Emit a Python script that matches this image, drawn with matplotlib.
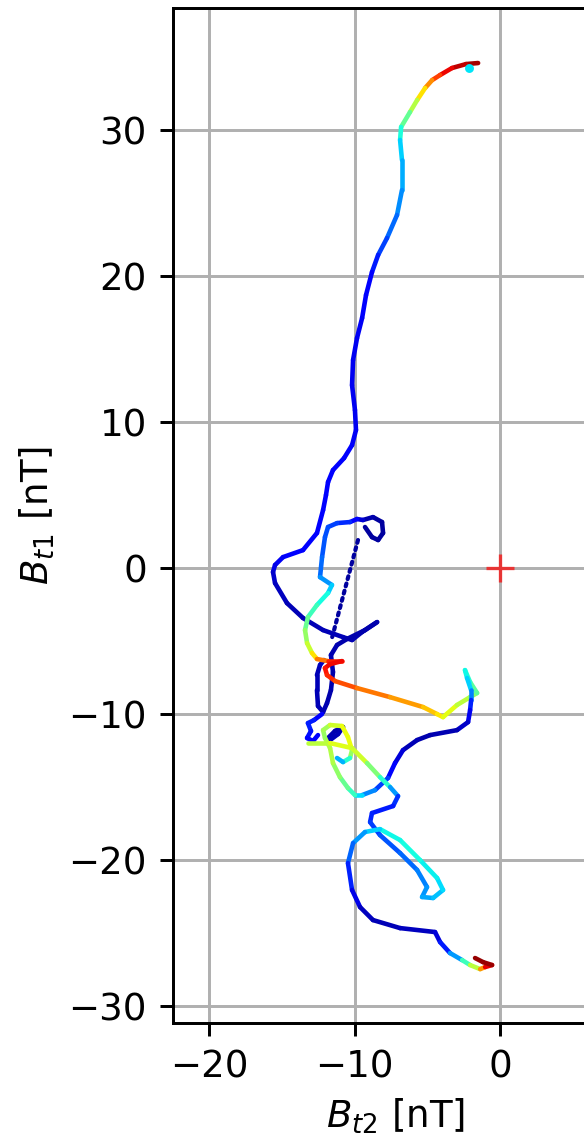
import numpy as np
import matplotlib
matplotlib.use("Agg")
import matplotlib.pyplot as plt
from matplotlib.collections import LineCollection

# Hodograma Bt2 vs Bt1, coloreado con jet
# tramo superior: rojo -> azul -> arco azul oscuro -> lazo azul oscuro
a1_x = [-1.51, -2.34, -3.30, -4.12, -4.67, -5.15, -5.70, -6.19, -6.80, -6.87,
        -6.74, -6.74, -7.08, -7.77, -8.38, -8.80, -9.21, -9.48, -9.83, -10.10,
        -10.17, -9.97, -9.90, -10.17, -10.72, -11.48, -11.82, -11.96, -12.16, -12.58,
        -13.54, -14.91, -15.46, -15.60, -15.46, -14.64, -13.54, -12.16, -10.79, -10.17,
        -9.48, -8.45, -9.28, -10.52, -11.20, -11.62, -11.48, -11.62, -11.89, -12.16,
        -12.51, -12.58, -12.58, -12.37, -12.10]
a1_y = [34.59, 34.52, 34.25, 33.77, 33.42, 32.88, 32.05, 31.23, 30.21, 29.32,
        27.95, 25.89, 24.18, 22.60, 21.44, 20.27, 18.70, 17.12, 15.75, 14.25,
        12.53, 10.82, 9.45, 8.42, 7.53, 6.71, 5.89, 5.00, 3.97, 2.40,
        1.23, 0.75, 0.21, -0.27, -1.03, -2.40, -3.42, -4.25, -4.73, -4.93,
        -4.38, -3.70, -4.25, -4.86, -5.27, -5.96, -7.12, -8.36, -9.25, -9.86,
        -9.45, -8.36, -7.33, -6.64, -6.30]
a1_c = [0.97, 0.96, 0.93, 0.88, 0.80, 0.72, 0.62, 0.52, 0.42, 0.35,
        0.31, 0.28, 0.25, 0.21, 0.17, 0.13, 0.11, 0.11, 0.10, 0.10,
        0.10, 0.10, 0.10, 0.11, 0.11, 0.11, 0.12, 0.12, 0.12, 0.12,
        0.12, 0.11, 0.10, 0.08, 0.06, 0.05, 0.05, 0.05, 0.05, 0.05,
        0.04, 0.04, 0.04, 0.04, 0.04, 0.05, 0.04, 0.04, 0.04, 0.05,
        0.05, 0.05, 0.05, 0.05, 0.06]

# enredo azul
tg_x = [-12.23, -12.78, -13.20, -12.99, -13.26, -12.85, -12.51]
tg_y = [-10.00, -10.41, -10.62, -11.16, -11.64, -11.85, -11.44]
tg_c = [0.10, 0.14, 0.16, 0.15, 0.13, 0.12, 0.10]

st_x = [-11.82, -11.34, -10.79, -11.13, -11.68]
st_y = [-11.64, -11.16, -10.89, -11.37, -11.78]
st_c = [0.05, 0.04, 0.04, 0.05, 0.05]

# tramo inferior: amarillo -> lazo cian -> final rojo oscuro
a2_x = [-13.20, -11.68, -10.17, -9.14, -8.25, -7.56, -7.01, -7.35, -8.80, -8.93,
        -8.25, -6.87, -5.70, -5.02, -5.36, -4.60, -3.92, -4.33, -5.50, -6.87,
        -8.25, -9.28, -10.10, -10.45, -10.17, -9.62, -8.73, -6.87, -4.47, -4.12,
        -3.44, -2.61, -2.06, -1.37, -1.03, -0.55, -1.17, -1.72]
a2_y = [-11.99, -11.99, -12.33, -13.36, -14.32, -15.00, -15.62, -16.30, -16.78, -17.40,
        -18.29, -19.52, -20.68, -21.85, -22.53, -22.60, -22.05, -21.23, -20.00, -18.63,
        -17.88, -18.08, -18.84, -20.21, -22.05, -23.22, -24.11, -24.66, -24.93, -25.62,
        -26.37, -26.85, -27.19, -27.47, -27.33, -27.19, -26.99, -26.71]
a2_c = [0.55, 0.60, 0.64, 0.56, 0.45, 0.35, 0.20, 0.15, 0.15, 0.17,
        0.20, 0.22, 0.24, 0.26, 0.28, 0.30, 0.33, 0.35, 0.37, 0.38,
        0.36, 0.30, 0.25, 0.20, 0.12, 0.06, 0.05, 0.05, 0.06, 0.10,
        0.20, 0.35, 0.50, 0.65, 0.85, 0.97, 0.98, 0.98]

# tramo central: lazo -> cian/verde -> naranja -> azul oscuro -> lazo verde
b_x = [-9.28, -8.80, -8.38, -8.04, -8.11, -8.73, -9.42, -9.83, -10.31, -11.20,
       -11.82, -12.03, -12.23, -12.37, -11.55, -11.82, -12.58, -13.20, -13.40, -13.26,
       -12.92, -12.58, -11.82, -10.86, -11.68, -12.03, -11.89, -11.34, -9.83, -7.56,
       -5.29, -4.33, -3.92, -2.96, -2.06, -1.58, -2.06, -2.41, -2.27, -1.99,
       -1.99, -2.06, -2.20, -2.96, -4.81, -5.70, -6.67, -7.22, -7.70, -8.59,
       -9.48, -9.97, -10.45, -11.00, -11.48, -11.68, -12.03, -12.16, -11.68, -10.86,
       -10.45, -10.17, -10.31, -10.79, -11.20]
b_y = [2.81, 2.12, 1.92, 2.40, 3.15, 3.49, 3.29, 3.36, 3.15, 3.08,
       2.81, 2.12, 0.75, -0.62, -1.16, -1.71, -2.53, -3.36, -4.25, -5.14,
       -5.82, -6.23, -6.37, -6.37, -6.58, -6.85, -7.33, -7.74, -8.22, -8.84,
       -9.52, -10.00, -10.21, -9.38, -8.84, -8.56, -7.81, -6.99, -7.53, -8.36,
       -9.04, -9.73, -10.55, -11.10, -11.44, -11.78, -12.47, -13.36, -14.38, -15.21,
       -15.55, -15.55, -15.07, -14.32, -13.36, -12.33, -11.64, -11.10, -10.75, -10.82,
       -11.58, -12.47, -13.01, -13.29, -13.01]
b_c = [0.03, 0.03, 0.03, 0.03, 0.03, 0.03, 0.05, 0.10, 0.15, 0.18,
       0.20, 0.20, 0.22, 0.24, 0.30, 0.35, 0.40, 0.45, 0.50, 0.56,
       0.62, 0.72, 0.85, 0.90, 0.90, 0.90, 0.88, 0.85, 0.80, 0.77,
       0.72, 0.68, 0.65, 0.60, 0.55, 0.50, 0.42, 0.38, 0.36, 0.30,
       0.20, 0.12, 0.08, 0.05, 0.04, 0.04, 0.06, 0.10, 0.15, 0.22,
       0.30, 0.38, 0.45, 0.50, 0.55, 0.58, 0.55, 0.52, 0.58, 0.62,
       0.65, 0.62, 0.45, 0.35, 0.25]

# salto rápido (puntos espaciados)
dot_x = [-9.76, -11.55]
dot_y = [1.92, -4.79]

cyan_pt = (-2.13, 34.25)

s = 267 / 200  # escala respecto al tamaño por defecto
plt.rcParams.update({
    "font.size": 10 * s,
    "axes.linewidth": 0.8 * s,
    "xtick.major.size": 3.5 * s,
    "ytick.major.size": 3.5 * s,
    "xtick.major.width": 0.8 * s,
    "ytick.major.width": 0.8 * s,
    "xtick.major.pad": 3.5 * s,
    "ytick.major.pad": 3.5 * s,
    "grid.linewidth": 0.8 * s,
})

fig = plt.figure(figsize=(2.92, 5.71), dpi=200)
ax = fig.add_axes([173 / 584, 119 / 1142, 445 / 584, 1015 / 1142])
ax.set_xlim(-22.47, 8.1)
ax.set_ylim(-31.16, 38.36)
ax.grid(True, zorder=0)
ax.set_axisbelow(True)

cmap = plt.get_cmap("jet")


def add_path(xs, ys, cs, lw=1.65):
    pts = np.column_stack([xs, ys]).reshape(-1, 1, 2)
    segs = np.concatenate([pts[:-1], pts[1:]], axis=1)
    cs = np.asarray(cs)
    lc = LineCollection(segs, colors=cmap((cs[:-1] + cs[1:]) / 2), linewidths=lw,
                        capstyle="round", joinstyle="round", zorder=3)
    ax.add_collection(lc)


ax.plot(dot_x, dot_y, color=cmap(0.03), lw=1.5, ls=(0, (0.7, 1.1)),
        dash_capstyle="round", zorder=3)
add_path(a1_x, a1_y, a1_c)
add_path(tg_x, tg_y, tg_c)
add_path(st_x, st_y, st_c)
add_path(b_x, b_y, b_c)
add_path(a2_x, a2_y, a2_c)
ax.plot(*cyan_pt, "o", color=cmap(0.35), ms=2.2, zorder=4)

ax.plot(0, 0, "+", color="red", alpha=0.7, ms=10, mew=1.2, zorder=4)

ax.set_xticks([-20, -10, 0])
ax.set_yticks([-30, -20, -10, 0, 10, 20, 30])
ax.set_xlabel(r"$B_{t2}$ [nT]")
ax.set_ylabel(r"$B_{t1}$ [nT]")

fig.savefig("out.png", dpi=200)
